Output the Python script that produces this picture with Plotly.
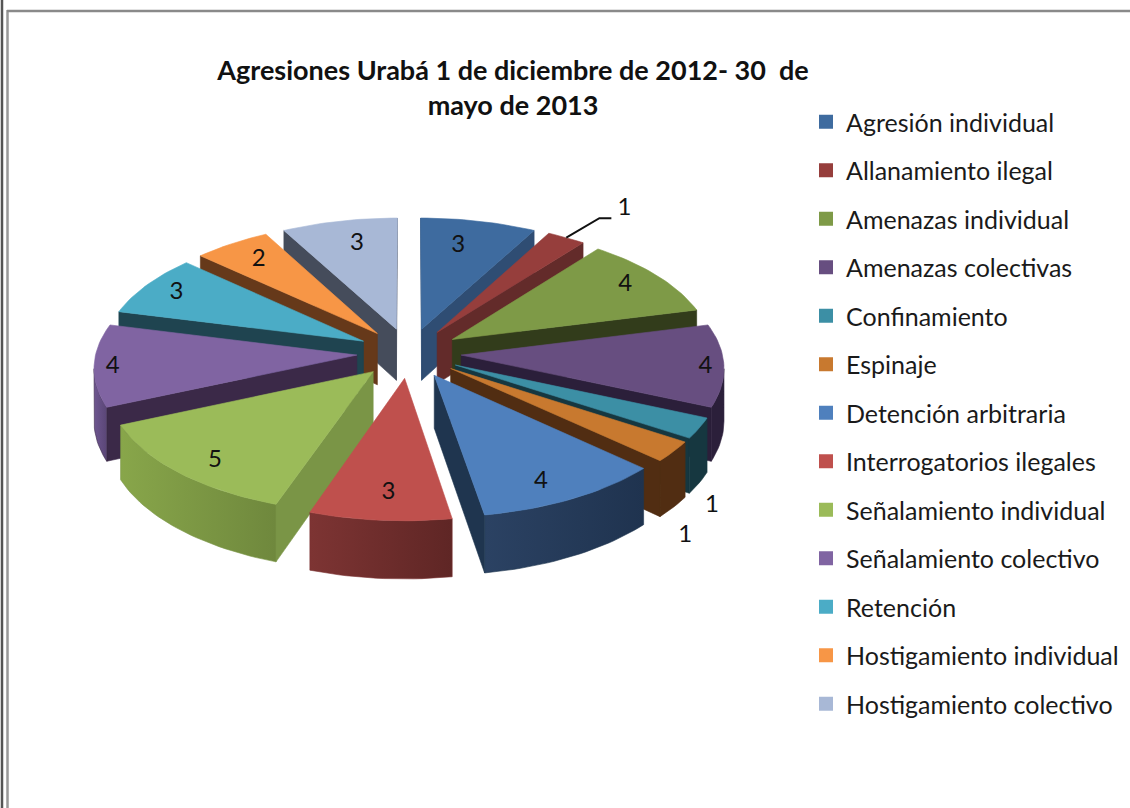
import math
import plotly.graph_objects as go

CATEGORIES = ["Agresión individual", "Allanamiento ilegal", "Amenazas individual",
              "Amenazas colectivas", "Confinamiento", "Espinaje", "Detención arbitraria",
              "Interrogatorios ilegales", "Señalamiento individual", "Señalamiento colectivo",
              "Retención", "Hostigamiento individual", "Hostigamiento colectivo"]
VALUES = [3, 1, 4, 4, 1, 1, 4, 3, 5, 4, 3, 2, 3]
TITLE = "Agresiones Urabá 1 de diciembre de 2012- 30\u00a0\u00a0de<br>mayo de 2013"

TOP_COLORS = ["#3e6b9f", "#963e3c", "#7e9a47", "#674e80", "#3c8fa5", "#c8792f", "#4f80bd",
              "#bf504d", "#9bbb59", "#8064a2", "#4bacc6", "#f79646", "#a8b8d6"]
SIDE_COLORS = ["#2f4d73", "#632b2a", "#323c1b", "#2b1f3a", "#163740", "#512d12", "#1f354f",
               "#7b3130", "#7a9546", "#3b2948", "#1f4450", "#66391a", "#454c5b"]
ARC_LEFT = ["#2f4d73", "#6b2f2e", "#4a5a2a", "#2b1f3a", "#163740", "#512d12", "#2b4263",
            "#7d3433", "#88a64a", "#6e5690", "#1f4450", "#66391a", "#454c5b"]
ARC_RIGHT = ["#2f4d73", "#632b2a", "#323c1b", "#2b1f3a", "#163740", "#512d12", "#1f334f",
             "#5f2625", "#6f883d", "#5a4676", "#1f4450", "#66391a", "#454c5b"]
# radial position, drop (in wall heights) and turn (degrees from the slice middle) of each label
LABEL_RADIUS = [0.976, 1.60, 1.06, 1.13, 1.25, 1.25, 1.03, 1.0, 1.04, 1.13, 1.07, 1.03, 1.0]
LABEL_DROP = [0.06, 0.06, 0.06, 0.06, 1.36, 1.43, 0.06, 0.06, 0.06, 0.06, 0.06, 0.06, 0.06]
LABEL_TURN = [-2.1, 2.0, -1.4, -0.2, 0, 0, 1.6, -0.6, -0.9, 0.2, 1.0, 1.0, 1.7]

CX, CY, RX, RY, PERSP, DEPTH, EXPLODE = 409, 353, 261, 125, 0.0887, 52, 0.2


def project(x, y, z=0.0):
    s = 1 / (1 + PERSP * y)
    return CX + RX * x * s, CY - RY * y * s + DEPTH * z * s


def area(pts):
    return sum(pts[i][0] * pts[(i + 1) % len(pts)][1] - pts[(i + 1) % len(pts)][0] * pts[i][1]
               for i in range(len(pts)))


def poly(pts, color, group, name, gradient=None):
    xs = [p[0] for p in pts] + [pts[0][0]]
    ys = [p[1] for p in pts] + [pts[0][1]]
    kw = dict(fillcolor=color)
    if gradient:
        kw = dict(fillgradient=dict(type="horizontal",
                                    colorscale=[[0, gradient[0]], [1, gradient[1]]]))
    return go.Scatter(x=xs, y=ys, mode="lines", fill="toself", line=dict(color=color, width=0.6),
                      legendgroup=group, showlegend=False, hoverinfo="text", text=name, **kw)


fig = go.Figure()
total = sum(VALUES)

for i, (name, col) in enumerate(zip(CATEGORIES, TOP_COLORS)):
    fig.add_trace(go.Scatter(x=[None], y=[None], mode="markers", name=name, legendgroup=f"s{i}",
                             marker=dict(symbol="square", size=14, color=col)))

slices = []
cum = 0
for i, v in enumerate(VALUES):
    slices.append((i, 2 * math.pi * cum / total, 2 * math.pi * (cum + v) / total))
    cum += v

for i, a0, a1 in sorted(slices, key=lambda t: -math.cos((t[1] + t[2]) / 2)):
    mid = (a0 + a1) / 2
    ox, oy = EXPLODE * math.sin(mid), EXPLODE * math.cos(mid)
    n = max(4, int((a1 - a0) * 40))
    thetas = [a0 + (a1 - a0) * k / n for k in range(n + 1)]
    rim = [(ox + math.sin(t), oy + math.cos(t)) for t in thetas]
    g, name = f"s{i}", f"{CATEGORIES[i]}: {VALUES[i]}"
    apex_t, apex_b = project(ox, oy), project(ox, oy, 1)

    end_wall = [apex_t, project(*rim[-1]), project(*rim[-1], 1), apex_b]
    start_wall = [apex_t, project(*rim[0]), project(*rim[0], 1), apex_b]

    # rim wall: only the part that faces the viewer
    front = [k for k in range(n)
             if area([project(*rim[k]), project(*rim[k + 1]),
                       project(*rim[k + 1], 1), project(*rim[k], 1)]) < 0]
    if area(end_wall) > 0:
        fig.add_trace(poly(end_wall, SIDE_COLORS[i], g, name))
    if area(start_wall) < 0:
        fig.add_trace(poly(start_wall, SIDE_COLORS[i], g, name))
    if front:
        idx = list(range(front[0], front[-1] + 2))
        arc = [project(*rim[k]) for k in idx] + [project(*rim[k], 1) for k in reversed(idx)]
        fig.add_trace(poly(arc, SIDE_COLORS[i], g, name, gradient=(ARC_LEFT[i], ARC_RIGHT[i])))
    fig.add_trace(poly([apex_t] + [project(*p) for p in rim], TOP_COLORS[i], g, name))

# value labels
lx, ly = [], []
for (i, a0, a1), rf, drop, turn in zip(slices, LABEL_RADIUS, LABEL_DROP, LABEL_TURN):
    ang = (a0 + a1) / 2 + math.radians(turn)
    px, py = project(rf * math.sin(ang), rf * math.cos(ang), drop)
    lx.append(px)
    ly.append(py)
fig.add_trace(go.Scatter(x=lx, y=ly, mode="text", text=[str(v) for v in VALUES],
                         textfont=dict(family="Lato", size=24, color="#111111"),
                         showlegend=False, hoverinfo="skip"))

# leader line of the thin "Allanamiento ilegal" slice
mid1 = (slices[1][1] + slices[1][2]) / 2
p0 = project(1.2 * math.sin(mid1), 1.2 * math.cos(mid1))
p1 = project(1.48 * math.sin(mid1), 1.48 * math.cos(mid1), 0.1)
fig.add_trace(go.Scatter(x=[p0[0], p1[0], p1[0] + 12], y=[p0[1], p1[1], p1[1]], mode="lines",
                         line=dict(color="#111111", width=2), showlegend=False, hoverinfo="skip"))

fig.update_layout(
    width=1130, height=808, margin=dict(l=0, r=0, t=0, b=0),
    paper_bgcolor="white", plot_bgcolor="white",
    font=dict(family="Lato", color="#1a1a1a"),
    xaxis=dict(range=[0, 1130], visible=False, fixedrange=True),
    yaxis=dict(range=[808, 0], visible=False, fixedrange=True),
    title=dict(text=TITLE, x=513 / 1130, y=1 - 80 / 808, xanchor="center", yanchor="top",
               font=dict(family="Lato", size=27, color="#111111", weight="bold")),
    legend=dict(x=806 / 1130, y=1 - 99 / 808, xanchor="left", yanchor="top",
                font=dict(family="Lato", size=25, color="#1a1a1a"),
                traceorder="grouped", tracegroupgap=13, bgcolor="rgba(0,0,0,0)"),
    shapes=[
        dict(type="line", x0=2, x1=2, y0=0, y1=808, line=dict(color="#555555", width=2.5)),
        dict(type="line", x0=7.5, x1=7.5, y0=10, y1=808, line=dict(color="#999999", width=2.5)),
        dict(type="line", x0=7, x1=1130, y0=11, y1=11, line=dict(color="#8a8a8a", width=2.5)),
    ],
)

fig.write_html("out.html", config=dict(displayModeBar=False),
               post_script="document.body.style.margin='0';document.body.style.overflow='hidden';")
